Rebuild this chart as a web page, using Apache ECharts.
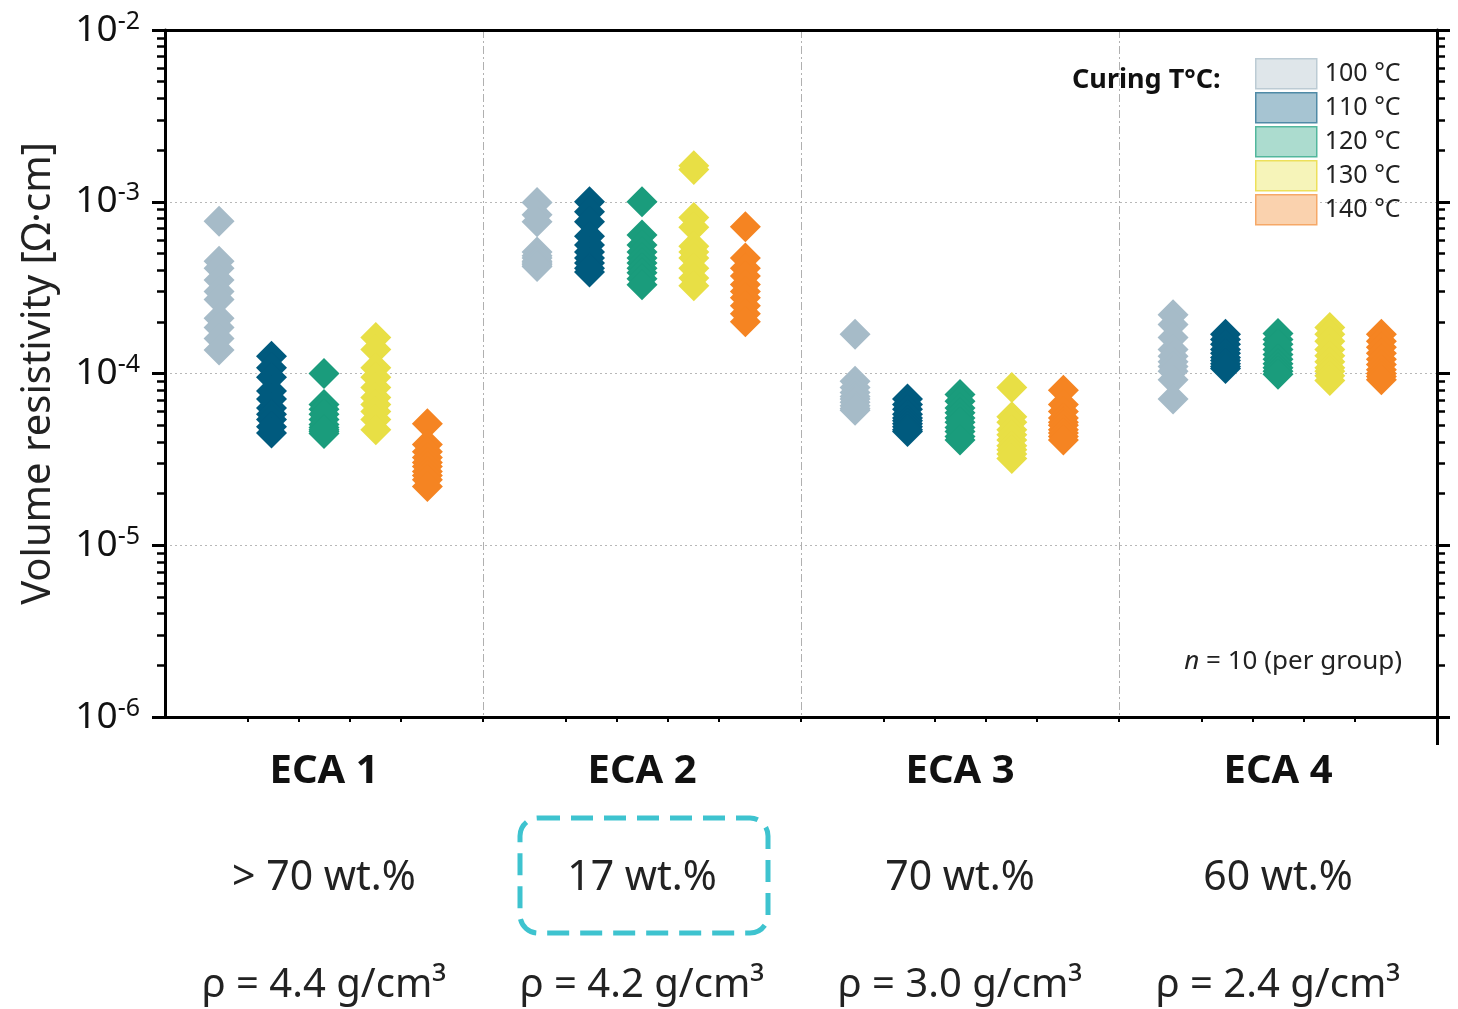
<!DOCTYPE html>
<html><head><meta charset="utf-8">
<script src="https://cdn.jsdelivr.net/npm/echarts@6/dist/echarts.min.js"></script>
<style>html,body{margin:0;padding:0;background:#fff}#c{width:1458px;height:1009px}</style>
</head><body><div id="c"></div>
<script>
// ---- data ----
const groups = ['ECA 1', 'ECA 2', 'ECA 3', 'ECA 4'];
const fillerContent = ['> 70 wt.%', '17 wt.%', '70 wt.%', '60 wt.%'];
const densities = ['ρ = 4.4 g/cm³', 'ρ = 4.2 g/cm³', 'ρ = 3.0 g/cm³', 'ρ = 2.4 g/cm³'];
const temperatures = ['100 °C', '110 °C', '120 °C', '130 °C', '140 °C'];
// volume resistivity [Ω·cm], 10 samples per group, one sub-array per ECA
const rho100 = [
  [7.7e-4, 4.5e-4, 4.1e-4, 3.5e-4, 3.0e-4, 2.7e-4, 2.1e-4, 1.85e-4, 1.6e-4, 1.37e-4],
  [9.9e-4, 8.4e-4, 7.65e-4, 5.1e-4, 4.85e-4, 4.7e-4, 4.5e-4, 4.4e-4, 4.3e-4, 4.2e-4],
  [1.69e-4, 9.0e-5, 8.3e-5, 7.75e-5, 7.35e-5, 7.1e-5, 6.8e-5, 6.5e-5, 6.25e-5, 6.1e-5],
  [2.2e-4, 1.93e-4, 1.62e-4, 1.38e-4, 1.26e-4, 1.17e-4, 1.1e-4, 1.03e-4, 9.2e-5, 7.1e-5]
];
const rho110 = [
  [1.26e-4, 1.08e-4, 9.5e-5, 7.9e-5, 7.1e-5, 6.3e-5, 5.8e-5, 5.4e-5, 4.9e-5, 4.5e-5],
  [1.0e-3, 8.75e-4, 7.65e-4, 6.3e-4, 5.6e-4, 5.1e-4, 4.7e-4, 4.4e-4, 4.1e-4, 3.9e-4],
  [7.1e-5, 6.6e-5, 6.2e-5, 5.8e-5, 5.5e-5, 5.3e-5, 5.1e-5, 4.9e-5, 4.7e-5, 4.6e-5],
  [1.69e-4, 1.58e-4, 1.48e-4, 1.38e-4, 1.31e-4, 1.24e-4, 1.19e-4, 1.14e-4, 1.1e-4, 1.07e-4]
];
const rho120 = [
  [1.0e-4, 6.6e-5, 6.2e-5, 5.8e-5, 5.4e-5, 5.05e-5, 4.85e-5, 4.7e-5, 4.6e-5, 4.47e-5],
  [1.0e-3, 6.4e-4, 5.6e-4, 5.1e-4, 4.7e-4, 4.4e-4, 4.1e-4, 3.86e-4, 3.56e-4, 3.29e-4],
  [7.55e-5, 6.9e-5, 6.3e-5, 5.9e-5, 5.5e-5, 5.2e-5, 4.85e-5, 4.6e-5, 4.3e-5, 4.1e-5],
  [1.71e-4, 1.58e-4, 1.48e-4, 1.38e-4, 1.29e-4, 1.21e-4, 1.14e-4, 1.08e-4, 1.03e-4, 9.9e-5]
];
const rho130 = [
  [1.62e-4, 1.38e-4, 1.08e-4, 9.5e-5, 8.3e-5, 7.25e-5, 6.6e-5, 6.0e-5, 5.4e-5, 4.7e-5],
  [1.62e-3, 1.54e-3, 8.1e-4, 7.1e-4, 5.5e-4, 5.1e-4, 4.7e-4, 4.1e-4, 3.6e-4, 3.24e-4],
  [8.3e-5, 5.6e-5, 5.2e-5, 4.7e-5, 4.4e-5, 4.1e-5, 3.8e-5, 3.6e-5, 3.4e-5, 3.2e-5],
  [1.85e-4, 1.69e-4, 1.54e-4, 1.38e-4, 1.27e-4, 1.17e-4, 1.08e-4, 1.03e-4, 9.7e-5, 9.1e-5]
];
const rho140 = [
  [5.1e-5, 3.86e-5, 3.5e-5, 3.24e-5, 3.03e-5, 2.87e-5, 2.69e-5, 2.55e-5, 2.41e-5, 2.2e-5],
  [7.15e-4, 4.7e-4, 4.1e-4, 3.7e-4, 3.3e-4, 3.0e-4, 2.76e-4, 2.48e-4, 2.23e-4, 2.0e-4],
  [8.0e-5, 6.6e-5, 6.0e-5, 5.5e-5, 5.2e-5, 5.0e-5, 4.7e-5, 4.5e-5, 4.3e-5, 4.1e-5],
  [1.69e-4, 1.54e-4, 1.42e-4, 1.31e-4, 1.21e-4, 1.13e-4, 1.05e-4, 1.0e-4, 9.6e-5, 9.2e-5]
];
const yMin = 1e-6, yMax = 1e-2;

// ---- styling ----
const FONT = 'Noto Sans';
const seriesValues = [rho100, rho110, rho120, rho130, rho140];
const markerColors = ['#a6bbc8', '#005a7e', '#1a9c7c', '#e8df45', '#f58422'];
const legendFill = ['#dfe6ea', '#a6c4d2', '#acdccf', '#f6f4b9', '#fad2ae'];
const legendBorder = ['#bccbd4', '#4f8aa6', '#52b79d', '#ede05a', '#f6a867'];
const colOffset = [-0.33, -0.165, 0, 0.163, 0.325];

const minorY = [];
for (let d = -6; d < -2; d++) for (let k = 2; k <= 9; k++) minorY.push(+(k * Math.pow(10, d)).toPrecision(3));
const minorX = [];
for (let g = 0; g < 4; g++) { [0.26, 0.42, 0.58, 0.74].forEach(f => minorX.push(g + f)); if (g > 0) minorX.push(g); }

const series = temperatures.map((name, t) => ({
  name, type: 'scatter', xAxisIndex: 0, yAxisIndex: 0,
  symbol: 'diamond', symbolSize: 31,
  itemStyle: { color: markerColors[t], opacity: 1 },
  emphasis: { disabled: true },
  data: seriesValues[t].flatMap((vals, g) => vals.map(v => [g + 0.5 + colOffset[t], v]))
}));

const black = '#000';
const noZero = (o) => Object.assign({ onZero: false }, o);
const chart = echarts.init(document.getElementById('c'), null, { renderer: 'canvas' });
chart.setOption({
  animation: false,
  backgroundColor: '#fff',
  textStyle: { fontFamily: FONT },
  grid: { left: 165, right: 21, top: 30, bottom: 292, containLabel: false, outerBoundsMode: 'none' },
  legend: {
    orient: 'vertical', left: 1255, top: 58, padding: 0, itemWidth: 61, itemHeight: 30, itemGap: 2.5,
    icon: 'rect', selectedMode: false,
    textStyle: { fontSize: 25, lineHeight: 30, color: '#222', fontFamily: FONT, padding: [0, 0, 0, 3] },
    data: temperatures.map((n, i) => ({ name: n, itemStyle: { color: legendFill[i], borderColor: legendBorder[i], borderWidth: 1.5 } }))
  },
  xAxis: [
    { type: 'value', min: 0, max: 4, interval: 1, position: 'bottom',
      axisLine: noZero({ show: true, lineStyle: { color: black, width: 3 } }),
      axisTick: { show: false }, axisLabel: { show: false },
      splitLine: { show: true, showMinLine: false, showMaxLine: false, lineStyle: { color: '#b0b0b0', width: 1, type: [8, 3, 2, 3] } } },
    { type: 'value', min: 0, max: 4, position: 'bottom',
      axisLine: noZero({ show: false }), axisLabel: { show: false }, splitLine: { show: false },
      axisTick: { show: true, customValues: minorX, length: 5, lineStyle: { color: black, width: 2 } } },
    { type: 'category', data: groups, position: 'bottom', boundaryGap: true,
      axisLine: noZero({ show: false }), axisTick: { show: false }, splitLine: { show: false },
      axisLabel: { show: true, interval: 0, margin: 1,
        formatter: (val, idx) => `{n|${val}}\n{w|${fillerContent[idx]}}\n{d|${densities[idx]}}`,
        rich: {
          n: { fontSize: 40, fontWeight: 'bold', color: '#111', lineHeight: 107, fontFamily: FONT },
          w: { fontSize: 41, color: '#222', lineHeight: 107, fontFamily: FONT },
          d: { fontSize: 40, color: '#222', lineHeight: 107, fontFamily: FONT }
        } } },
    { type: 'value', min: 0, max: 4, position: 'bottom',
      axisLine: noZero({ show: false }), axisLabel: { show: false }, splitLine: { show: false },
      axisTick: { show: true, customValues: [4], length: 28, lineStyle: { color: black, width: 3 } } },
    { type: 'value', min: 0, max: 4, position: 'top',
      axisLine: noZero({ show: true, lineStyle: { color: black, width: 3 } }),
      axisTick: { show: false }, axisLabel: { show: false }, splitLine: { show: false } }
  ],
  yAxis: [
    { type: 'log', logBase: 10, min: yMin, max: yMax, splitNumber: 4, position: 'left',
      name: 'Volume resistivity [Ω·cm]', nameLocation: 'middle', nameGap: 106, nameRotate: 90,
      nameTextStyle: { fontSize: 40, color: '#222', fontFamily: FONT },
      axisLine: noZero({ show: true, lineStyle: { color: black, width: 3 } }),
      axisTick: { show: true, length: 13, lineStyle: { color: black, width: 3 } },
      minorTick: { show: false },
      axisLabel: { show: true, margin: 25, align: 'right',
        formatter: v => '{b|10}{s|' + Math.round(Math.log10(v)) + '}',
        rich: { b: { fontSize: 37, lineHeight: 42, color: '#111', fontFamily: FONT },
                s: { fontSize: 25, lineHeight: 17, verticalAlign: 'top', color: '#111', fontFamily: FONT } } },
      splitLine: { show: true, showMinLine: false, showMaxLine: false, lineStyle: { color: '#b8b8b8', width: 1.2, type: [2, 3] } } },
    { type: 'log', logBase: 10, min: yMin, max: yMax, position: 'left',
      axisLine: noZero({ show: false }), axisLabel: { show: false }, splitLine: { show: false },
      axisTick: { show: true, customValues: minorY, length: 8, lineStyle: { color: black, width: 2.5 } } },
    { type: 'log', logBase: 10, min: yMin, max: yMax, splitNumber: 4, position: 'right',
      axisLine: noZero({ show: true, lineStyle: { color: black, width: 3 } }),
      axisTick: { show: true, length: 13, lineStyle: { color: black, width: 3 } },
      axisLabel: { show: false }, splitLine: { show: false } },
    { type: 'log', logBase: 10, min: yMin, max: yMax, position: 'right',
      axisLine: noZero({ show: false }), axisLabel: { show: false }, splitLine: { show: false },
      axisTick: { show: true, customValues: minorY, length: 8, lineStyle: { color: black, width: 2.5 } } }
  ],
  graphic: [
    { type: 'text', z: 100, style: { text: 'Curing T°C:', x: 1072, y: 80, align: 'left', verticalAlign: 'middle',
        fontSize: 27, fontWeight: 'bold', fontFamily: FONT, fill: '#111' } },
    { type: 'text', z: 100, style: { text: '{i|n} = 10 (per group)', x: 1402, y: 662, align: 'right', verticalAlign: 'middle',
        fontSize: 26, fontFamily: FONT, fill: '#222',
        rich: { i: { fontStyle: 'italic', fontSize: 26, fontFamily: FONT, fill: '#222' } } } },
    { type: 'rect', z: 100, shape: { x: 520, y: 818, width: 248, height: 115, r: 18 },
      style: { fill: 'none', stroke: '#3ec3cf', lineWidth: 5, lineDash: [22, 11] } }
  ],
  series
});
</script></body></html>
